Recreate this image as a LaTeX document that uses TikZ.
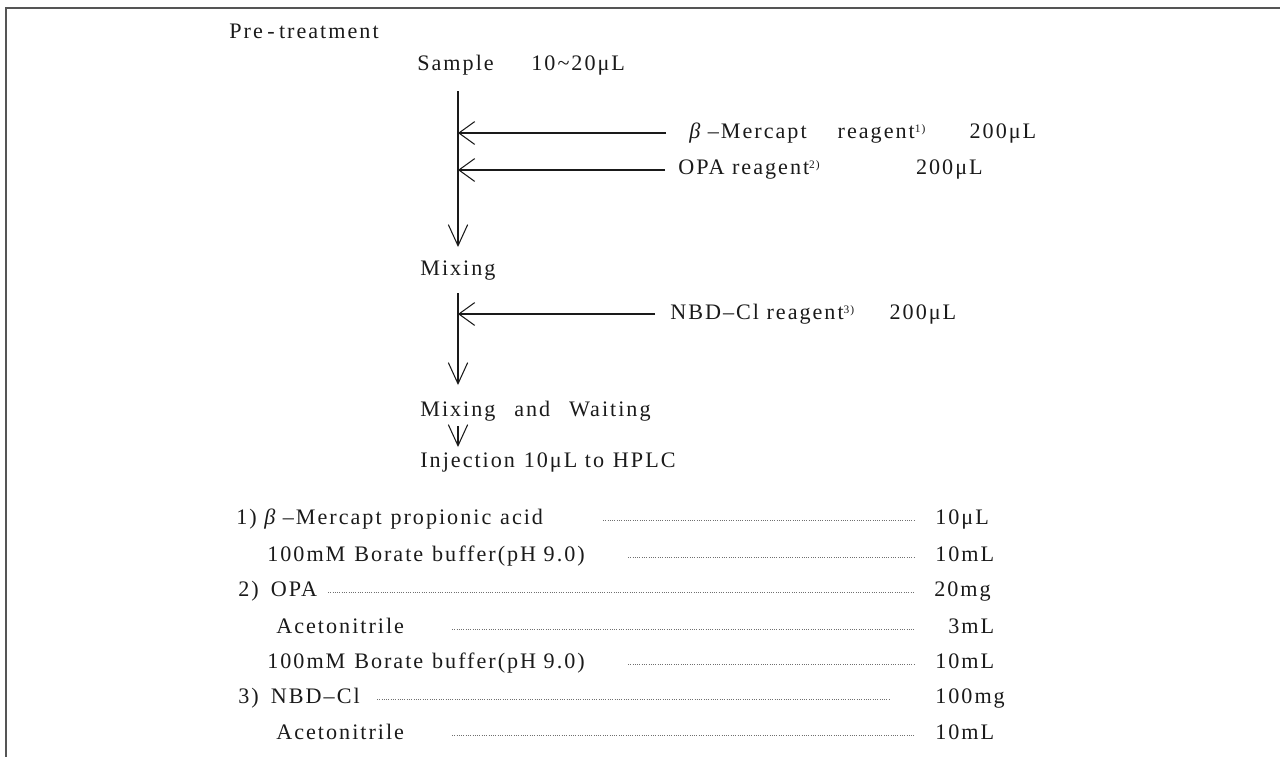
\documentclass[tikz,border=0pt]{standalone}
\usepackage{fontspec}
\setmainfont{Liberation Serif}[LetterSpace=9]
\usepackage{xcolor}
\definecolor{ink}{HTML}{1A1A1A}
\definecolor{rule}{HTML}{555555}
\definecolor{dotgray}{HTML}{707070}
\usepackage{tikz}
\usetikzlibrary{arrows.meta,calc}
\tikzset{
  feed/.style  ={-{Straight Barb[length=9pt,width=13pt]},draw=ink,line width=0.6pt},
  drop/.style  ={-{Straight Barb[length=12pt,width=11pt]},draw=ink,line width=0.6pt},
  txt/.style   ={font=\fontsize{12.6}{14}\selectfont,inner sep=0pt,anchor=base west,text=ink},
  lbl/.style   ={font=\fontsize{12.6}{14}\selectfont,inner sep=0pt,anchor=west,text=ink},
  leader/.style={draw=dotgray,line width=0.5pt,dash pattern=on 0.5pt off 0.8pt},
  frame/.style ={draw=rule,line width=0.9pt},
}
\newcommand{\rmark}[1]{\raisebox{0.6ex}{\fontsize{6.5}{6.5}\selectfont #1}}
\newcommand{\gap}{\hspace{0.4em}}

\begin{document}
\begin{tikzpicture}[x=1cm,y=1cm]
\useasboundingbox (0,0) rectangle (25.6,-15.14);
% frame (top and left edges only)
\draw[frame] (25.6,-0.16) -- (0.12,-0.16) -- (0.12,-15.14);

%================= flow
\coordinate (trunk) at (9.16,0);
\node[txt] (pre)    at (4.58,-0.76) {Pre\hspace{0.2em}-\hspace{0.2em}treatment};
\node[txt] (sample) at (8.34,-1.40) {Sample\hspace{1.7em}10\textasciitilde20μL};
\node[lbl] (rg1)    at (13.78,-2.66) {{\itshape β} –Mercapt\hspace{1.4em}reagent\rmark{1)}\hspace{2.0em}200μL};
\node[lbl] (rg2)    at (13.56,-3.40) {OPA reagent\rmark{2)}\hspace{4.35em}200μL};
\node[txt] (mix1)   at (8.40,-5.50) {Mixing};
\node[lbl] (rg3)    at (13.40,-6.28) {NBD–Cl reagent\rmark{3)}\hspace{1.6em}200μL};
\node[txt] (mix2)   at (8.40,-8.32) {Mixing\hspace{0.85em}and\hspace{0.85em}Waiting};
\node[txt] (inj)    at (8.40,-9.34) {Injection\gap 10μL to\gap HPLC};

\draw[drop] ($(sample.base -| trunk)+(0,-0.42)$) -- ($(mix1.base -| trunk)+(0,0.56)$);
\draw[feed] ([xshift=-0.46cm]rg1.west) -- (rg1.west -| trunk);
\draw[feed] ([xshift=-0.26cm]rg2.west) -- (rg2.west -| trunk);
\draw[drop] ($(mix1.base -| trunk)+(0,-0.36)$) -- ($(mix2.base -| trunk)+(0,0.62)$);
\draw[feed] ([xshift=-0.30cm]rg3.west) -- (rg3.west -| trunk);
\draw[drop] ($(mix2.base -| trunk)+(0,-0.20)$) -- ($(inj.base -| trunk)+(0,0.40)$);

%================= reagent recipes
\node[txt] (it1) at (4.72,-10.48) {1) {\itshape β} –Mercapt\gap propionic\gap acid};
\node[txt] (it2) at (5.34,-11.22) {100mM\gap Borate\gap buffer(pH 9.0)};
\node[txt] (it3) at (4.76,-11.92) {2)\hspace{0.55em}OPA};
\node[txt] (it4) at (5.52,-12.66) {Acetonitrile};
\node[txt] (it5) at (5.34,-13.36) {100mM\gap Borate\gap buffer(pH 9.0)};
\node[txt] (it6) at (4.76,-14.06) {3)\hspace{0.55em}NBD–Cl};
\node[txt] (it7) at (5.52,-14.78) {Acetonitrile};

\node[txt] (va1) at (18.70,-10.48) {10μL};
\node[txt] (va2) at (18.70,-11.22) {10mL};
\node[txt] (va3) at (18.68,-11.92) {20mg};
\node[txt] (va4) at (18.96,-12.66) {3mL};
\node[txt] (va5) at (18.70,-13.36) {10mL};
\node[txt] (va6) at (18.70,-14.06) {100mg};
\node[txt] (va7) at (18.70,-14.78) {10mL};

\draw[leader] ([xshift=-6.64cm,yshift=2pt]va1.base west) -- ([xshift=-0.40cm,yshift=2pt]va1.base west);
\draw[leader] ([xshift=-6.14cm,yshift=2pt]va2.base west) -- ([xshift=-0.40cm,yshift=2pt]va2.base west);
\draw[leader] ([xshift=-12.12cm,yshift=2pt]va3.base west) -- ([xshift=-0.42cm,yshift=2pt]va3.base west);
\draw[leader] ([xshift=-9.92cm,yshift=2pt]va4.base west) -- ([xshift=-0.66cm,yshift=2pt]va4.base west);
\draw[leader] ([xshift=-6.14cm,yshift=2pt]va5.base west) -- ([xshift=-0.40cm,yshift=2pt]va5.base west);
\draw[leader] ([xshift=-11.16cm,yshift=2pt]va6.base west) -- ([xshift=-0.90cm,yshift=2pt]va6.base west);
\draw[leader] ([xshift=-9.66cm,yshift=2pt]va7.base west) -- ([xshift=-0.40cm,yshift=2pt]va7.base west);
\end{tikzpicture}
\end{document}
